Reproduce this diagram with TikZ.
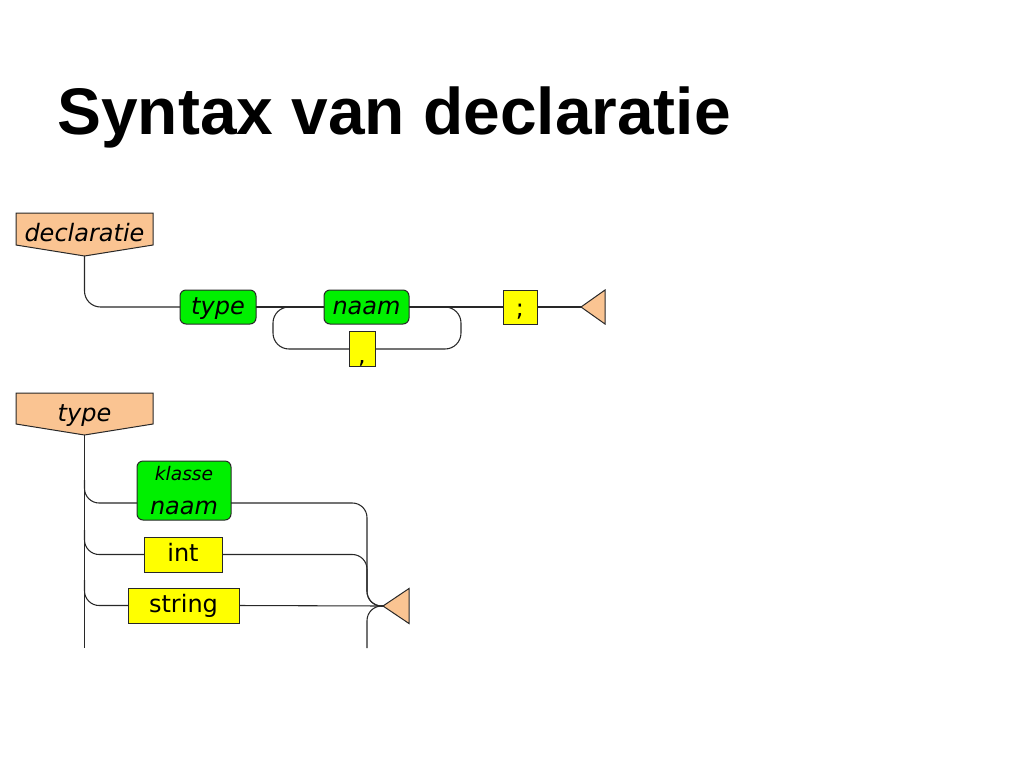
\documentclass[tikz,border=0pt]{standalone}
\usepackage{fontspec}
\setmainfont{DejaVu Sans}
\newfontfamily\titlefont{Liberation Sans}
\usepackage{tikz}
\usetikzlibrary{backgrounds}
\usepackage{xcolor}

\definecolor{peach}{RGB}{250,196,146}
\definecolor{railgreen}{RGB}{0,240,0}
\definecolor{railyellow}{RGB}{255,255,0}
\definecolor{railgray}{RGB}{40,40,40}

\tikzset{
  rail/.style={draw=railgray, line width=0.8pt},
  box/.style={draw=railgray, line width=0.75pt, inner sep=0pt, outer sep=0pt,
    font=\fontsize{18}{20}\selectfont},
  oneline/.style={text height=13.5pt, text depth=2.7pt},
  greenbox/.style={box, fill=railgreen, rounded corners=4.5pt,
    font=\fontsize{18}{20}\selectfont\itshape},
  yellowbox/.style={box, fill=railyellow},
  headtext/.style={inner sep=0pt, outer sep=0pt, minimum width=102.75pt,
    font=\fontsize{18}{20}\selectfont\itshape, text height=18.9pt, text depth=0pt},
  headshape/.style={draw=railgray, line width=0.75pt, fill=peach},
}

\begin{document}
\begin{tikzpicture}[x=0.75pt,y=-0.75pt]
    \useasboundingbox (0,0) rectangle (1024,768);

    \node[anchor=base west, inner sep=0pt,
      font=\titlefont\fontsize{49.4}{52}\selectfont\bfseries] (title) at (57,134) {Syntax van declaratie};

    % declaratie
    \node[headtext, minimum height=24pt] (decl) at (84.5,229) {declaratie};
    \coordinate (decl tip) at (84.5,256);
    \begin{scope}[on background layer]
        \draw[headshape] (decl.north west) -- (decl.north east) -- (decl.south east)
            -- (decl tip) -- (decl.south west) -- cycle;
    \end{scope}

    \node[greenbox, oneline, minimum width=57pt, minimum height=25.5pt] (type) at (218,307) {type};
    \node[greenbox, oneline, minimum width=63.75pt, minimum height=25.5pt] (naam) at (366.5,307) {naam};
    \node[yellowbox, text height=15pt, text depth=1.5pt, minimum width=25.5pt, minimum height=25.5pt] (semi) at (520,307) {;};
    \node[yellowbox, text height=22pt, text depth=0pt, minimum width=19.5pt, minimum height=26.25pt] (comma) at (362,349) {,};
    \coordinate (decl close) at (581,307);
    \coordinate (loop nw) at (273,307);
    \coordinate (loop ne) at (461,307);

    \draw[rail, rounded corners=12pt] (decl tip) |- (type.west);
    \draw[rail] (type.east) -- (naam.west);
    \draw[rail] (naam.east) -- (semi.west);
    \draw[rail] (semi.east) -- (decl close);
    \draw[rail, rounded corners=12pt] (comma.west) -| (loop nw) -- (naam.west);
    \draw[rail, rounded corners=12pt] (comma.east) -| (loop ne) -- (naam.east);
    \draw[headshape] (decl close) -- ++(24,-17) -- ++(0,34) -- cycle;

    % type
    \node[headtext, minimum height=23.25pt] (typehead) at (84.5,408.5) {type};
    \coordinate (type tip) at (84.5,435);
    \begin{scope}[on background layer]
        \draw[headshape] (typehead.north west) -- (typehead.north east) -- (typehead.south east)
            -- (type tip) -- (typehead.south west) -- cycle;
    \end{scope}

    \node[greenbox, align=center, minimum width=70.5pt, minimum height=44.25pt] (klasse) at (184,490.5)
        {{\fontsize{14}{16}\selectfont klasse}\\[5pt]naam};
    \node[yellowbox, oneline, minimum width=58.5pt, minimum height=26.25pt] (int) at (183,554.5) {int};
    \node[yellowbox, oneline, minimum width=83.25pt, minimum height=26.25pt] (string) at (183.5,605.5) {string};

    \coordinate (type end) at (84.5,648);
    \coordinate (b1) at (84.5,480);
    \coordinate (b2) at (84.5,530);
    \coordinate (b3) at (84.5,580);
    \coordinate (klasse rail) at (184,503);
    \coordinate (join) at (367,606);
    \coordinate (join low) at (367,648);
    \coordinate (type close) at (383,606);

    \draw[rail] (type tip) -- (type end);
    \draw[rail, rounded corners=11pt] (b1) |- (klasse.west |- klasse rail);
    \draw[rail, rounded corners=11pt] (b2) |- (int.west);
    \draw[rail, rounded corners=11pt] (b3) |- (string.west);
    \draw[rail, rounded corners=11pt] (klasse.east |- klasse rail) -| (join) -- (type close);
    \draw[rail, rounded corners=11pt] (int.east) -| (join) -- (type close);
    \draw[rail] (string.east) -- (type close);
    \draw[rail, rounded corners=11pt] (join low) |- (type close);
    \draw[headshape] (type close) -- ++(26,-17.5) -- ++(0,35) -- cycle;

\end{tikzpicture}
\end{document}
